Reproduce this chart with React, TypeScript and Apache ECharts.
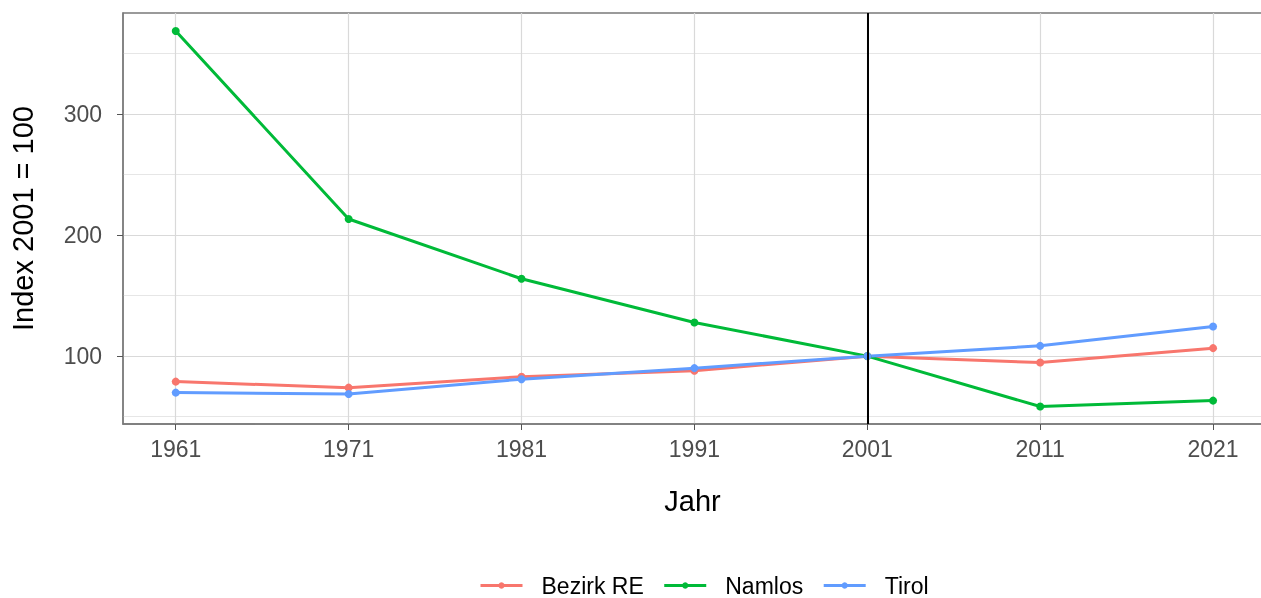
import { useEffect, useRef } from "react";
import * as echarts from "echarts";

const years = [1961, 1971, 1981, 1991, 2001, 2011, 2021];
const bezirkRE = [79, 74, 83, 88, 100, 94.7, 106.6];
const namlos = [368.3, 213.2, 163.9, 127.8, 100, 58.4, 63.3];
const tirol = [69.9, 68.8, 81, 90.1, 100, 108.5, 124.5];
const yTicks = [100, 200, 300];
const yMinor = [50, 150, 250, 350];
const referenceYear = 2001;

const FONT = "'Liberation Sans', Arial, sans-serif";

function pairs(vals: number[]) {
  return years.map((y, i) => [y, vals[i]]);
}

export default function App() {
  const ref = useRef<HTMLDivElement>(null);
  useEffect(() => {
    if (!ref.current) return;
    const chart = echarts.init(ref.current, null, { renderer: "svg" });
    const xMin = 1957.95;
    const xMax = 2023.83;
    const yMin = 44;
    const yMax = 383.2;
    const mkSeries = (name: string, color: string, vals: number[], extra: any = {}) => ({
      name,
      type: "line",
      data: pairs(vals),
      xAxisIndex: 0,
      yAxisIndex: 0,
      symbol: "circle",
      symbolSize: 8,
      showSymbol: true,
      lineStyle: { color, width: 3 },
      itemStyle: { color },
      emphasis: { disabled: true },
      ...extra,
    });
    chart.setOption({
      animation: false,
      grid: {
        left: 123,
        top: 13,
        width: 1139,
        height: 411,
        outerBoundsMode: "none",
        show: true,
        borderColor: "#7A7A7A",
        borderWidth: 1.3,
        backgroundColor: "transparent",
      },
      xAxis: [
        {
          type: "value",
          min: xMin,
          max: xMax,
          position: "bottom",
          name: "Jahr",
          nameLocation: "middle",
          nameGap: 62,
          nameTextStyle: { fontFamily: FONT, fontSize: 29, color: "#000" },
          axisLine: { show: true, lineStyle: { color: "#7A7A7A", width: 1.5 } },
          axisTick: { show: true, length: 6, customValues: years, lineStyle: { color: "#555" } },
          axisLabel: {
            customValues: years,
            fontFamily: FONT,
            fontSize: 23,
            color: "#4D4D4D",
            margin: 13,
            formatter: (v: number) => String(Math.round(v)),
          },
          splitLine: { show: true, lineStyle: { color: "#D9D9D9", width: 1.2 } },
        },
      ],
      yAxis: [
        {
          type: "value",
          min: yMin,
          max: yMax,
          position: "left",
          name: "Index 2001 = 100",
          nameLocation: "middle",
          nameGap: 86,
          nameRotate: 90,
          nameTextStyle: { fontFamily: FONT, fontSize: 29, color: "#000" },
          axisLine: { show: true, lineStyle: { color: "#7A7A7A", width: 1.5 } },
          axisTick: { show: true, length: 6, customValues: yTicks, lineStyle: { color: "#555" } },
          axisLabel: {
            customValues: yTicks,
            fontFamily: FONT,
            fontSize: 23,
            color: "#4D4D4D",
            margin: 21,
          },
          splitLine: { show: true, lineStyle: { color: "#D9D9D9", width: 1.2 } },
        },
        {
          type: "value",
          min: yMin,
          max: yMax,
          position: "right",
          axisLine: { show: false },
          axisTick: { show: false, customValues: yMinor },
          axisLabel: { show: false, customValues: yMinor },
          splitLine: { show: true, lineStyle: { color: "#E6E6E6", width: 1 } },
        },
      ],
      legend: {
        top: 574,
        left: 479,
        padding: 0,
        itemWidth: 42,
        itemHeight: 8,
        itemGap: 19,
        lineStyle: { width: 3 },
        textStyle: { fontFamily: FONT, fontSize: 23, color: "#000", padding: [0, 0, 0, 14] },
        data: ["Bezirk RE", "Namlos", "Tirol"],
      },
      series: [
        mkSeries("Bezirk RE", "#F8766D", bezirkRE),
        mkSeries("Namlos", "#00BA38", namlos, {
          markLine: {
            silent: true,
            symbol: ["none", "none"],
            label: { show: false },
            lineStyle: { color: "#000", width: 2, type: "solid" },
            emphasis: { disabled: true },
            data: [{ xAxis: referenceYear }],
          },
        }),
        mkSeries("Tirol", "#619CFF", tirol),
      ],
    });
    return () => chart.dispose();
  }, []);
  return (
    <div
      ref={ref}
      style={{ position: "fixed", left: 0, top: 0, width: 1261, height: 598 }}
    />
  );
}
